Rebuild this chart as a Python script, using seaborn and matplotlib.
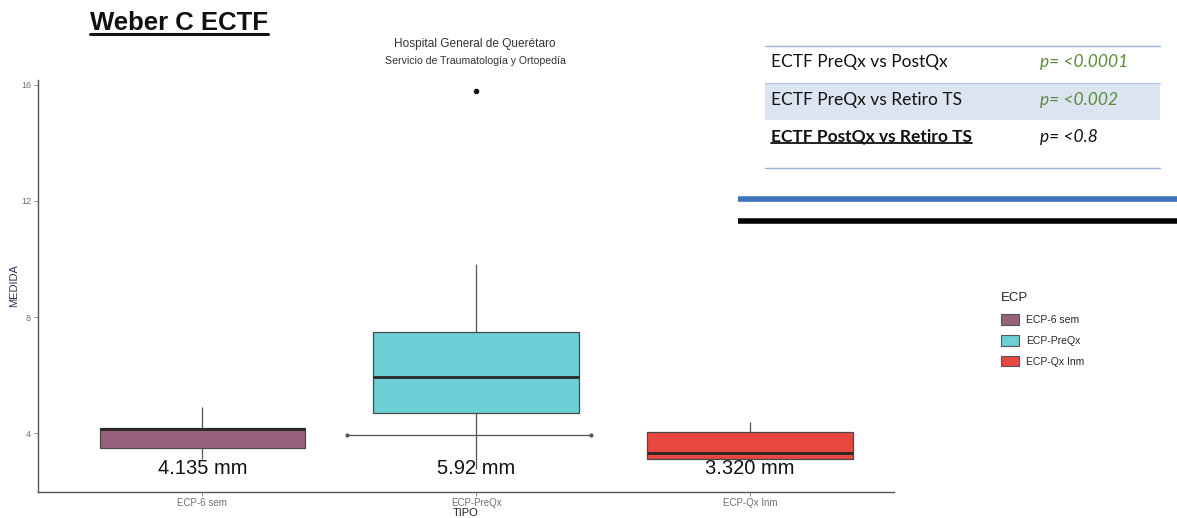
import matplotlib
matplotlib.use("Agg")
import matplotlib.pyplot as plt
import seaborn as sns
import pandas as pd
from matplotlib.patches import Patch, Rectangle
from matplotlib.lines import Line2D

# ---------------- data ----------------
categories = ["ECP-6 sem", "ECP-PreQx", "ECP-Qx Inm"]
whisker_low = [3.10, 2.75, 3.00]
q1_values = [3.48, 4.69, 3.10]
medians = [4.135, 5.92, 3.32]
q3_values = [4.17, 7.48, 4.03]
whisker_high = [4.90, 9.83, 4.38]
outliers = [[], [15.8], []]
median_labels = ["4.135 mm", "5.92 mm", "3.320 mm"]
colors = ["#98617B", "#6BCFD5", "#E8473F"]

# stray reference segment drawn across the PreQx box
segment_y = 3.93
segment_x = [0.53, 1.42]

table_rows = ["ECTF PreQx vs PostQx", "ECTF PreQx vs Retiro TS", "ECTF PostQx vs Retiro TS"]
table_pvals = ["p= <0.0001", "p= <0.002", "p= <0.8"]
pval_colors = ["#5E8B3A", "#5E8B3A", "#111111"]

# build observation table whose quartiles/whiskers reproduce the read statistics
rows = []
for cat, lo, a, m, b, hi, outs in zip(categories, whisker_low, q1_values, medians,
                                       q3_values, whisker_high, outliers):
    vals = [lo] + [a] * 3 + [m] * 3 + [b] * 3 + [hi] + list(outs)
    rows += [(cat, v) for v in vals]
df = pd.DataFrame(rows, columns=["TIPO", "MEDIDA"])

# ---------------- figure ----------------
sns.set_theme(style="white")
plt.rcParams["font.family"] = ["Liberation Sans", "DejaVu Sans"]

W, H = 1177, 518
fig = plt.figure(figsize=(W / 100, H / 100), dpi=100)
fig.patch.set_facecolor("white")


def px(x, y):
    return x / W, 1 - y / H


ax_left, ax_right, ax_top, ax_bot = 38, 894, 80, 492
ax = fig.add_axes([ax_left / W, 1 - ax_bot / H, (ax_right - ax_left) / W, (ax_bot - ax_top) / H])

sns.boxplot(data=df, x="TIPO", y="MEDIDA", hue="TIPO", order=categories, hue_order=categories,
            palette=colors, width=0.75, linecolor="#4a4a4a", linewidth=0.9, showcaps=False,
            saturation=1, legend=False, ax=ax,
            medianprops=dict(color="#262626", linewidth=2.0),
            whiskerprops=dict(color="#555555", linewidth=0.9),
            flierprops=dict(marker="o", markerfacecolor="#111111", markeredgecolor="#111111",
                            markersize=3.0))

ax.plot(segment_x, [segment_y, segment_y], color="#555555", linewidth=0.9, marker="o",
        markersize=2, zorder=5)

ax.set_xlim(-0.6, 2.526)
ax.set_ylim(1.97, 16.17)
ax.set_yticks([4, 8, 12, 16])
ax.set_yticklabels(["4", "8", "12", "16"])
for sp in ["top", "right"]:
    ax.spines[sp].set_visible(False)
for sp in ["left", "bottom"]:
    ax.spines[sp].set_color("#555555")
    ax.spines[sp].set_linewidth(1.0)
ax.tick_params(axis="both", which="both", length=3, width=0.6, color="#777777",
               labelcolor="#707070", pad=2, left=True, bottom=True)
ax.tick_params(axis="y", labelsize=6.5)
ax.tick_params(axis="x", labelsize=7, pad=1)
ax.set_xlabel("TIPO", fontsize=8, color="#222222", labelpad=0.5)
ax.set_ylabel("MEDIDA", fontsize=8, color="#333355")
ax.yaxis.set_label_coords(-0.022, 0.5)

for i, lab in enumerate(median_labels):
    ax.text(i, 2.78, lab, ha="center", va="center", fontsize=14.5, color="#111111", zorder=6)

# titles
t = fig.text(*px(90, 23), "Weber C ECTF", fontsize=18.5, fontweight="bold", ha="left",
             va="center", color="#111111")
fig.text(*px(475, 44), "Hospital General de Querétaro", fontsize=8.6, ha="center",
         va="center", color="#333333")
fig.text(*px(475, 61), "Servicio de Traumatología y Ortopedía", fontsize=7.6, ha="center",
         va="center", color="#333333")

# legend
handles = [Patch(facecolor=c, edgecolor="#555555", linewidth=0.8) for c in colors]
fig.legend(handles, categories, title="ECP", loc="upper left",
           bbox_to_anchor=px(992, 283), frameon=False, fontsize=7.5,
           title_fontsize=9.5, handlelength=1.7, handleheight=1.2, labelspacing=0.95,
           handletextpad=0.7, alignment="left")

# table (top right)
fig.add_artist(Rectangle(px(765, 120), (1160 - 765) / W, 37 / H, transform=fig.transFigure,
                         facecolor="#DCE3F1", edgecolor="none", zorder=1))
for yy, col in [(46, "#9DB3D6"), (83, "#B8C8E4"), (168, "#9DB3D6")]:
    fig.add_artist(Line2D([765 / W, 1160 / W], [1 - yy / H, 1 - yy / H], color=col,
                          linewidth=1.0, transform=fig.transFigure, zorder=2))
fig.add_artist(Line2D([738 / W, 1.0], [1 - 199 / H, 1 - 199 / H], color="#3B73B9",
                      linewidth=4.0, transform=fig.transFigure, solid_capstyle="butt"))
fig.add_artist(Line2D([738 / W, 1.0], [1 - 221 / H, 1 - 221 / H], color="#050505",
                      linewidth=4.0, transform=fig.transFigure, solid_capstyle="butt"))

row_y = [62, 100, 137]
txts = []
for i, (lab, pv, pc, yy) in enumerate(zip(table_rows, table_pvals, pval_colors, row_y)):
    bold = (i == 2)
    tt = fig.text(*px(771, yy), lab, fontsize=12.5, family=["Lato", "DejaVu Sans"],
                  fontweight="bold" if bold else "normal", ha="left", va="center",
                  color="#111111", zorder=3)
    txts.append(tt)
    fig.text(*px(1040, yy), pv, fontsize=12.5, family=["Lato", "DejaVu Sans"],
             style="italic", ha="left", va="center", color=pc, zorder=3)

# underlines
fig.canvas.draw()
renderer = fig.canvas.get_renderer()
for obj, off in [(t, 3), (txts[2], 2)]:
    bb = obj.get_window_extent(renderer)
    yline = bb.y0 - off + 4
    lw = 2.2 if obj is t else 1.3
    fig.add_artist(Line2D([bb.x0 / W, bb.x1 / W], [yline / H, yline / H], color="#111111",
                          linewidth=lw, transform=fig.transFigure))

fig.savefig("out.png", dpi=100)
